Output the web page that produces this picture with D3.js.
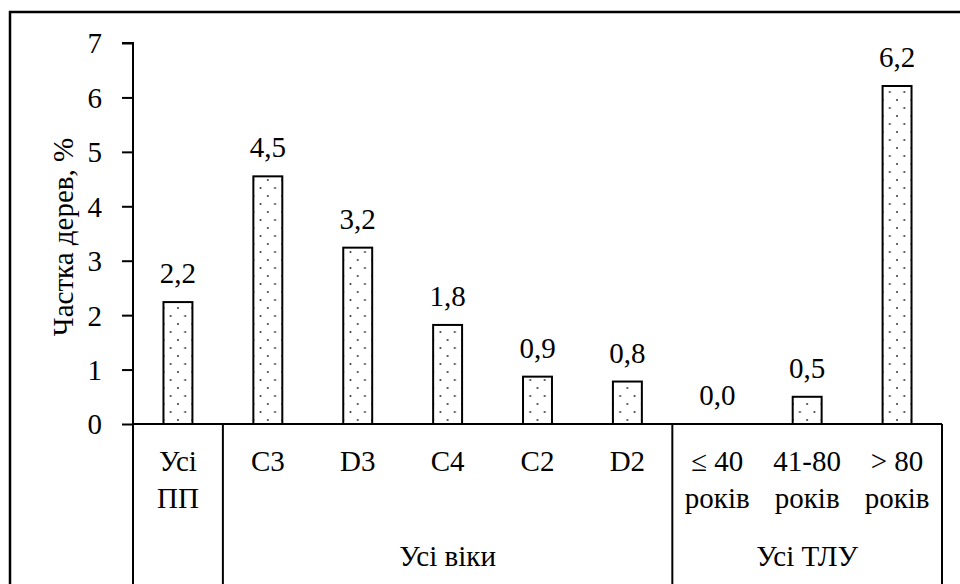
<!DOCTYPE html>
<html><head><meta charset="utf-8">
<script src="https://cdn.jsdelivr.net/npm/d3@7"></script>
</head><body style="margin:0;background:#fff"><svg id="c" width="960" height="584" style="font-family:Liberation Serif"></svg>
<script>
const categories = ["Усі ПП","C3","D3","C4","C2","D2","≤ 40 років","41-80 років","> 80 років"];
const labelLines = [["Усі","ПП"],["C3"],["D3"],["C4"],["C2"],["D2"],["≤ 40","років"],["41-80","років"],["> 80","років"]];
const values = [2.24, 4.55, 3.24, 1.82, 0.87, 0.78, 0.0, 0.5, 6.21];
const groups = [{name:"", from:0, to:0},{name:"Усі віки", from:1, to:5},{name:"Усі ТЛУ", from:6, to:8}];
const yTicks = [0,1,2,3,4,5,6,7];
const yTitle = "Частка дерев, %";

const FONT = "Liberation Serif";
const svg = d3.select("#c");
const L=133, R=942, T=43, B=424, FS="29px";
const x = d3.scaleBand().domain(d3.range(categories.length)).range([L,R]).paddingInner(0.678).paddingOuter(0.339);
const y = d3.scaleLinear().domain([0,7]).range([B,T]);
const step = x.step();

function txt(sel){ return sel.style("font-family",FONT).style("font-size",FS).style("fill","#000"); }

// outer frame
svg.append("path").attr("d","M10,584V12H962").attr("fill","none").attr("stroke","#000").attr("stroke-width",2.5);

// patterns per bar
const defs = svg.append("defs");
values.forEach((v,i)=>{
  const p = defs.append("pattern").attr("id","dots"+i).attr("patternUnits","userSpaceOnUse")
    .attr("x", x(i)).attr("y", B).attr("width", x.bandwidth()/2).attr("height",16);
  p.append("circle").attr("cx", x.bandwidth()*0.25).attr("cy",4).attr("r",1).attr("fill","#333");
  p.append("circle").attr("cx", 0).attr("cy",12).attr("r",1).attr("fill","#333");
  p.append("circle").attr("cx", x.bandwidth()/2).attr("cy",12).attr("r",1).attr("fill","#333");
});

// bars
svg.selectAll("rect.bar").data(values.map((v,i)=>({v,i})).filter(d=>d.v>0)).join("rect").attr("class","bar")
  .attr("x",d=>x(d.i))
  .attr("y",d=>y(d.v)).attr("width",x.bandwidth()).attr("height",d=>B-y(d.v))
  .attr("fill",d=>"url(#dots"+d.i+")").attr("stroke","#000").attr("stroke-width",2);

// value labels
txt(svg.selectAll("text.val").data(values).join("text").attr("class","val")
  .attr("x",(d,i)=>x(i)+x.bandwidth()/2).attr("y",d=>y(d)-19)
  .attr("text-anchor","middle")
  .text(d=>d3.format(".1f")(d).replace(".",",")));

// y axis
const ya = svg.append("g").attr("transform",`translate(${L},0)`)
  .call(d3.axisLeft(y).tickValues(yTicks).tickSize(11).tickPadding(20).tickFormat(d3.format("d")));
ya.attr("font-family",FONT).attr("font-size",29);
ya.select(".domain").attr("stroke","#000").attr("stroke-width",2).attr("d",`M-11,${T}H0V${B}`);
ya.selectAll(".tick line").attr("stroke","#000").attr("stroke-width",2);
txt(ya.selectAll(".tick text").attr("dy","0.34em"));

// y title
txt(svg.append("text").attr("transform",`translate(73,237) rotate(-90)`)
  .attr("text-anchor","middle").text(yTitle));

// x axis line and separators
svg.append("line").attr("x1",L).attr("x2",R).attr("y1",B).attr("y2",B).attr("stroke","#000").attr("stroke-width",2);
const seps = [L, x(1)-x.paddingInner()*step/2, x(6)-x.paddingInner()*step/2, R];
svg.selectAll("line.sep").data(seps).join("line").attr("class","sep")
  .attr("x1",d=>d).attr("x2",d=>d).attr("y1",B).attr("y2",590).attr("stroke","#000").attr("stroke-width",2);

// category labels
labelLines.forEach((lines,i)=>{
  lines.forEach((t,j)=>{
    txt(svg.append("text").attr("x",x(i)+x.bandwidth()/2).attr("y",471+j*37)
      .attr("text-anchor","middle").text(t));
  });
});
// group labels
groups.filter(g=>g.name).forEach(g=>{
  const cx = (x(g.from)+x(g.to)+x.bandwidth())/2;
  txt(svg.append("text").attr("x",cx).attr("y",566).attr("text-anchor","middle").text(g.name));
});
</script></body></html>
